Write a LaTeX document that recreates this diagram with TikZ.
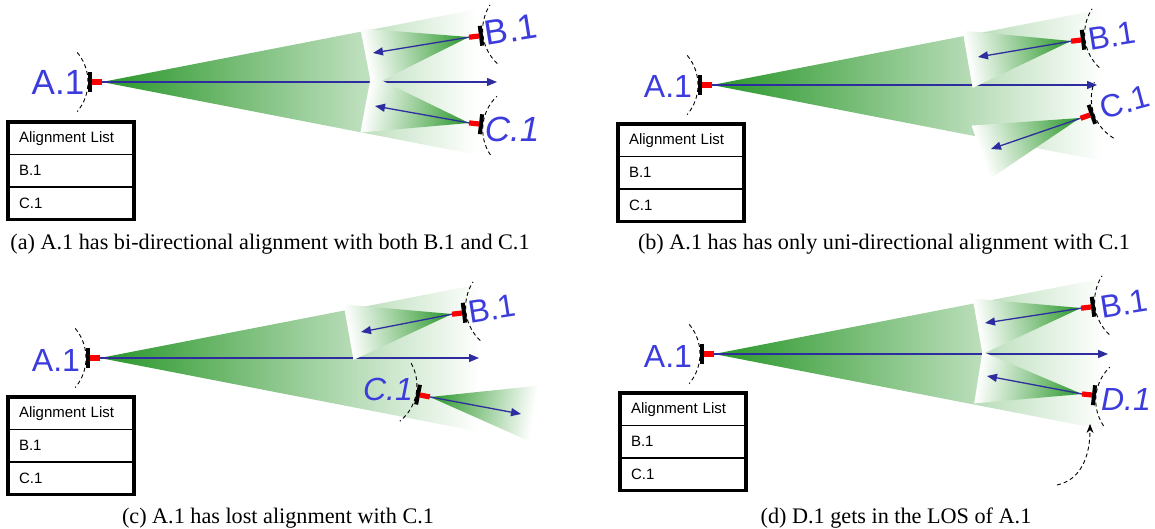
\documentclass[tikz,border=0pt]{standalone}
\usepackage{fontspec}
\setmainfont{Liberation Serif}
\newfontfamily\labelfont{Liberation Sans}
\usepackage{tikz}
\usetikzlibrary{arrows.meta}
\definecolor{beamgreen}{RGB}{40,150,40}
\definecolor{arrowblue}{RGB}{45,45,160}
\definecolor{labelblue}{RGB}{60,60,220}
\definecolor{antred}{RGB}{250,0,0}
% x/y of the bar, direction of the beam, name of the feed point
\newcommand{\antennalist}{92/82/0/A1a, 479/36/187/B1a, 479/124/173.7/C1a,
  702/85/0/A1b, 1081/40/187/B1b, 1090/115/199/C1b,
  90/358/0/A1c, 462/313/187/B1c, 420/395/-11/C1c,
  704/354/0/A1d, 1091/307/187/B1d, 1092/395/174/D1d}

\begin{document}
\begin{tikzpicture}[x=1pt, y=-1pt,
    sitelabel/.style={font=\labelfont\fontsize{32}{38}\selectfont, text=labelblue, inner sep=0pt},
    biglabel/.style={sitelabel, font=\labelfont\fontsize{35}{40}\selectfont},
    listrow/.style={draw, line width=1.5pt, outer sep=0pt, minimum width=126pt, minimum height=32.5pt,
        text width=104pt, align=left, inner xsep=11pt, font=\labelfont\fontsize{15}{18}\selectfont},
    listframe/.style={line width=3.5pt},
    capt/.style={font=\fontsize{22.2}{26}\selectfont, anchor=base, inner sep=0pt},
    beamarrow/.style={draw=arrowblue, line width=1.3pt, -{Triangle[length=10pt,width=8pt]}},
    swing/.style={draw=black, line width=0.9pt, dash pattern=on 4pt off 3pt},
    movepath/.style={swing, -{Stealth[length=9pt,width=7pt]}}]
  \useasboundingbox (0,0) rectangle (1155,529);

  % feed points
  \foreach \px/\py/\dir/\nm in \antennalist {
    \begin{scope}[shift={(\px,\py)}, rotate=\dir]
      \coordinate (\nm) at (10,0);
    \end{scope}
  }

  % beams of A.1
  \foreach \px/\py/\len in {102/82/375, 712/85/390, 100/358/380, 714/354/390} {
    \shade[left color=beamgreen, right color=white]
      (\px,\py) -- ++(\len,{\len*tan(11)}) -- ++(0,{-2*\len*tan(11)}) -- cycle;
  }
  \foreach \nm/\tx/\ty in {A1a/497/82, A1b/1097/85, A1c/479/358, A1d/1108/354} {
    \coordinate (\nm e) at (\tx,\ty);
    \draw[beamarrow] (\nm) -- (\nm e);
  }

  % beams of the other stations
  \foreach \px/\py/\dir/\half in {469/37/191/15.5, 469/123/169.5/15.5,
      1071/41/190/15.5, 1080/118/199/15,
      452/314/190/15, 430/397/-9/15,
      1081/308/190/15, 1082/394/171/14} {
    \begin{scope}[transform canvas={shift={(\px,\py)}, rotate=\dir}]
      \shade[left color=beamgreen, right color=white]
        (0,0) -- (105,{105*tan(\half)}) -- (105,{-105*tan(\half)}) -- cycle;
    \end{scope}
  }
  \foreach \nm/\tx/\ty in {B1a/373/53, C1a/375/106, B1b/978/57, C1b/991/149,
      B1c/361/332, C1c/521/414, B1d/985/323, D1d/987/376} {
    \coordinate (\nm e) at (\tx,\ty);
    \draw[beamarrow] (\nm) -- (\nm e);
  }

  % antennas (bar, feed, swing range)
  \foreach \px/\py/\dir/\nm in \antennalist {
    \begin{scope}[shift={(\px,\py)}, rotate=\dir]
      \fill[black] (-4,-10) rectangle (0,10);
      \fill[antred] (0,-2.6) rectangle (10,2.6);
      \draw[swing] (-50,0) ++(-40:46) arc[start angle=-40, end angle=40, radius=46];
    \end{scope}
  }

  % station names
  \node[biglabel] (labA1a) at (58,82) {A.1};
  \node[biglabel, rotate=9] (labB1a) at (511,30) {B.1};
  \node[biglabel, font=\labelfont\itshape\fontsize{35}{40}\selectfont] (labC1a) at (512,129) {C.1};
  \node[sitelabel] (labA1b) at (668,86) {A.1};
  \node[sitelabel, rotate=9] (labB1b) at (1112,36) {B.1};
  \node[sitelabel, rotate=15] (labC1b) at (1125,102) {C.1};
  \node[sitelabel] (labA1c) at (56,360) {A.1};
  \node[sitelabel, rotate=9] (labB1c) at (492,309) {B.1};
  \node[sitelabel, font=\labelfont\itshape\fontsize{32}{38}\selectfont] (labC1c) at (388,389) {C.1};
  \node[sitelabel] (labA1d) at (668,356) {A.1};
  \node[sitelabel, rotate=9] (labB1d) at (1124,304) {B.1};
  \node[sitelabel, font=\labelfont\itshape\fontsize{32}{38}\selectfont] (labD1d) at (1126,399) {D.1};

  % D.1 moving in
  \coordinate (D1dfrom) at (1057,485);
  \coordinate (D1dto) at (1090,424);
  \draw[movepath] (D1dfrom) .. controls (1080,480) and (1090,458) .. (D1dto);

  % alignment lists
  \foreach \tx/\ty/\tn in {8/122/a, 618/124/b, 8/397/c, 620/393/d} {
    \node[listrow, anchor=north west] (list\tn1) at (\tx,\ty) {Alignment List};
    \node[listrow, anchor=north] (list\tn2) at (list\tn1.south) {B.1};
    \node[listrow, anchor=north] (list\tn3) at (list\tn2.south) {C.1};
    \draw[listframe] (list\tn1.north west) rectangle (list\tn3.south east);
  }

  % captions
  \node[capt] (capa) at (270,249) {(a) A.1 has bi-directional alignment with both B.1 and C.1};
  \node[capt] (capb) at (884,249) {(b) A.1 has has only uni-directional alignment with C.1};
  \node[capt] (capc) at (278,523) {(c) A.1 has lost alignment with C.1};
  \node[capt] (capd) at (896,523) {(d) D.1 gets in the LOS of A.1};
\end{tikzpicture}
\end{document}
